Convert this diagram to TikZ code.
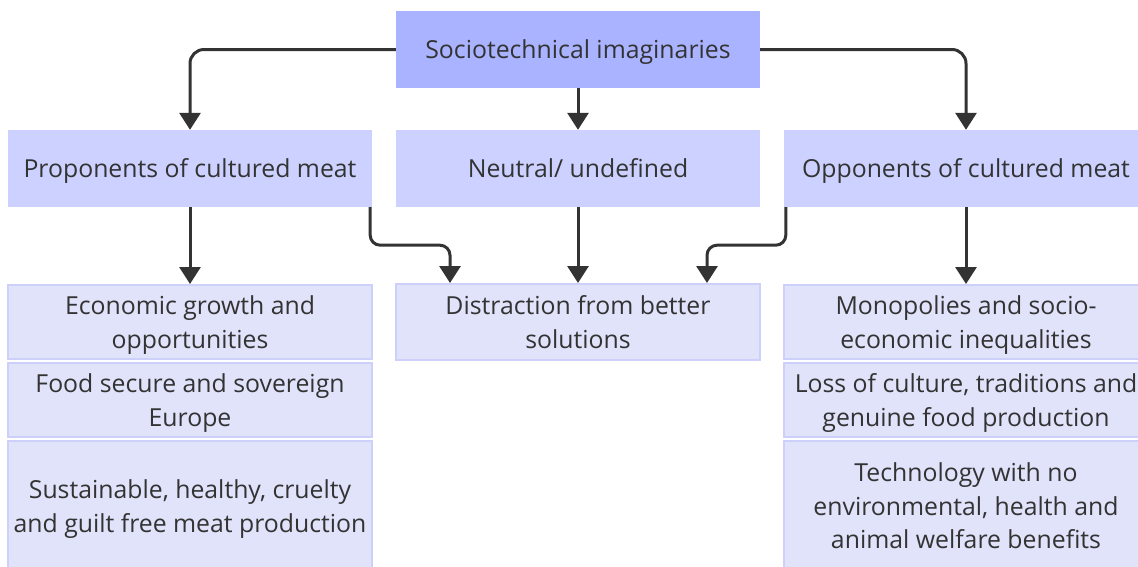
\documentclass[tikz,border=0pt]{standalone}
\usepackage{fontspec}
\setmainfont{Open Sans}
\usetikzlibrary{arrows.meta,positioning}
\definecolor{topblue}{RGB}{170,179,255}
\definecolor{midblue}{RGB}{205,209,255}
\definecolor{lowblue}{RGB}{224,227,250}
\definecolor{lowedge}{RGB}{204,208,250}
\definecolor{ink}{RGB}{51,51,51}
\begin{document}
\begin{tikzpicture}[x=1pt,y=-1pt,
      every node/.style={font=\fontsize{24.8}{33.5}\selectfont,text=ink,align=center,inner sep=0pt,text depth=0pt},
      box/.style={minimum width=364pt,minimum height=77pt},
      top/.style={box,fill=topblue},
      mid/.style={box,fill=midblue},
      low/.style={box,fill=lowblue,draw=lowedge,line width=2pt},
      arr/.style={draw=ink,line width=3pt,-{Triangle[width=21pt,length=17pt]}}]
    \useasboundingbox (0,0) rectangle (1138,566);
    \node[top] (soc) at (578,49.5)  {Sociotechnical imaginaries};
    \node[mid] (pro) at (190,168.5) {Proponents of cultured meat};
    \node[mid] (neu) at (578,168.5) {Neutral/ undefined};
    \node[mid] (opp) at (966,168.5) {Opponents of cultured meat};
    % outcomes
    \node[low,minimum height=74pt] (eco) at (190,322) {Economic growth and\\opportunities};
    \node[low,minimum height=74pt] (foo) at (190,400) {Food secure and sovereign\\Europe};
    \node[low,minimum height=130pt] (sus) at (190,506) {Sustainable, healthy, cruelty\\and guilt free meat production};
    \node[low,minimum height=76pt] (dis) at (578,322) {Distraction from better\\solutions};
    \node[low,minimum height=74pt] (mon) at (966,322) {Monopolies and socio-\\economic inequalities};
    \node[low,minimum height=74pt] (los) at (966,400) {Loss of culture, traditions and\\genuine food production};
    \node[low,minimum height=130pt] (tec) at (966,506) {Technology with no\\environmental, health and\\animal welfare benefits};
    \draw[arr,rounded corners=14pt] (soc.west) -| (pro.north);
    \draw[arr,rounded corners=14pt] (soc.east) -| (opp.north);
    \foreach \a/\b in {soc/neu,pro/eco,neu/dis,opp/mon}{\draw[arr](\a)--(\b);}
    \draw[arr,rounded corners=10pt] ([xshift=-2pt]pro.south east) -- ++(0,38) -| ([xshift=-128pt]dis.north);
    \draw[arr,rounded corners=10pt] ([xshift=2pt]opp.south west) -- ++(0,38) -| ([xshift=129pt]dis.north);
  \end{tikzpicture}
\end{document}
